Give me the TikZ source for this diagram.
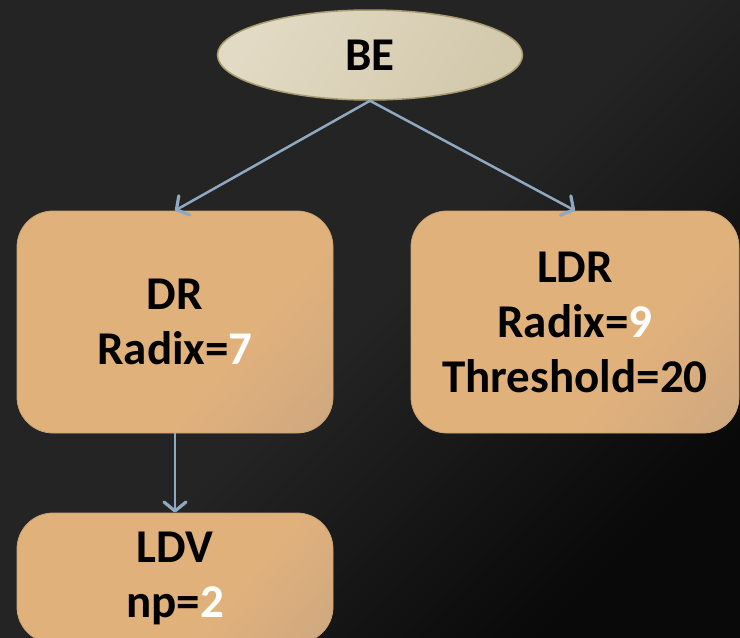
\documentclass[tikz,border=0pt]{standalone}
\usepackage{fontspec}
\setmainfont{Carlito}
\usetikzlibrary{arrows.meta,shapes.geometric}
\definecolor{bgTL}{HTML}{242424}
\definecolor{bgBR}{HTML}{090909}
\definecolor{boxA}{HTML}{E1B17C}
\definecolor{boxB}{HTML}{C2A282}
\definecolor{boxEdge}{HTML}{C9A272}
\definecolor{ellA}{HTML}{E2DAC4}
\definecolor{ellB}{HTML}{D3C9AD}
\definecolor{ellEdge}{HTML}{A99C70}
\definecolor{arrowc}{HTML}{8EA9C1}
\pgfdeclarehorizontalshading{boxshade}{100bp}{color(0bp)=(boxA); color(62bp)=(boxA); color(100bp)=(boxB)}
\newcommand\whitedig[1]{\textcolor{white}{#1}}
\begin{document}
\begin{tikzpicture}[x=1pt,y=-1pt,
  bigfont/.style={font=\fontsize{47}{55}\selectfont\bfseries},
  box/.style={draw=boxEdge, line width=0.8pt, rounded corners=36pt,
    shade, shading=boxshade, shading angle=-40,
    minimum height=222pt, inner sep=0pt, align=center, text=black, bigfont},
  ell/.style={ellipse, draw=ellEdge, line width=1.5pt,
    top color=ellA, bottom color=ellB, shading angle=60,
    minimum width=305pt, minimum height=90pt, inner sep=0pt, text=black, bigfont},
  conn/.style={draw=arrowc, line width=2.5pt,
    -{Straight Barb[length=9pt,width=22pt,line width=3.2pt,round]}}
]
\useasboundingbox (0,0) rectangle (740,638);
\shade[top color=bgTL, bottom color=bgBR, middle color=black!86, shading angle=45] (0,0) rectangle (740,638);
\begin{scope}
\clip (0,0) rectangle (740,638);
\node[ell] (be) at (370,55) {\raisebox{-4pt}{BE}};
\node[box, minimum width=316pt] (dr) at (175,322) {DR\\Radix=\whitedig{7}};
\node[box, minimum width=328pt] (ldr) at (575,322) {LDR\\Radix=\whitedig{9}\\Threshold=20};
\node[box, minimum width=316pt, minimum height=130pt] (ldv) at (175,578) {LDV\\np=\whitedig{2}};
\end{scope}
\draw[conn] (be.south) -- (dr.north);
\draw[conn] (be.south) -- (ldr.north);
\draw[conn] (dr.south) -- (ldv.north);
\end{tikzpicture}
\end{document}
